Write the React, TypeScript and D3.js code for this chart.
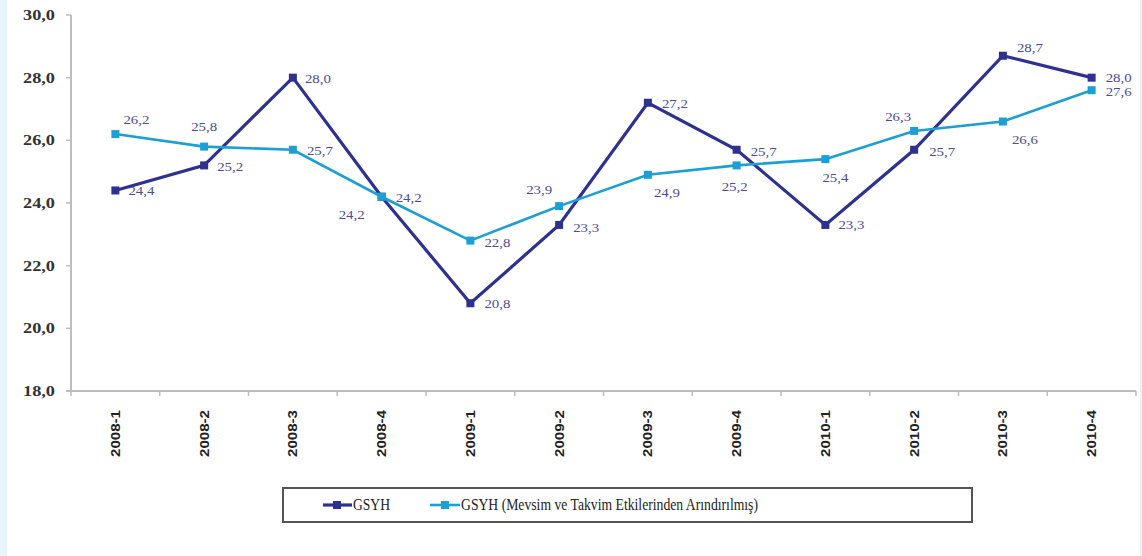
import React from 'react';
import * as d3 from 'd3';

const categories = ['2008-1', '2008-2', '2008-3', '2008-4', '2009-1', '2009-2', '2009-3', '2009-4', '2010-1', '2010-2', '2010-3', '2010-4'];
const gsyh = [24.4, 25.2, 28.0, 24.2, 20.8, 23.3, 27.2, 25.7, 23.3, 25.7, 28.7, 28.0];
const gsyhAdj = [26.2, 25.8, 25.7, 24.2, 22.8, 23.9, 24.9, 25.2, 25.4, 26.3, 26.6, 27.6];
const yTicks = [18, 20, 22, 24, 26, 28, 30];

// label offsets [dx, dy] from each point (start of text, baseline)
const gsyhLabelOffsets = [[13, 5], [13, 6], [12, 5], [-43, 22], [14, 5], [14, 7], [14, 5], [14, 6], [13, 4], [15, 6], [14, -4], [14, 4]];
const adjLabelOffsets = [[8, -10], [-13, -16], [14, 5], [14, 5], [14, 6], [-33, -12], [6, 22], [-15, 26], [-3, 23], [-29, -10], [9, 22], [14, 6]];

const DARK = '#2e3190';
const LIGHT = '#1c9fd3';
const LABEL = '#4d4b9b';
const AXIS = '#bdbdbd';

const fmt = (v: number) => v.toFixed(1).replace('.', ',');

export default function App() {
  const width = 1142;
  const height = 556;
  const left = 71, right = 1136, top = 15, bottom = 391;

  const x = d3.scalePoint<string>().domain(categories).range([left, right]).padding(0.5);
  const y = d3.scaleLinear().domain([18, 30]).range([bottom, top]);
  const step = x.step();

  const line = d3.line<number>()
    .x((_, i) => x(categories[i]) as number)
    .y(d => y(d));

  const series = [
    { name: 'GSYH', values: gsyh, color: DARK, width: 3.2, offsets: gsyhLabelOffsets },
    { name: 'GSYH (Mevsim ve Takvim Etkilerinden Arındırılmış)', values: gsyhAdj, color: LIGHT, width: 2.6, offsets: adjLabelOffsets },
  ];

  return (
    <svg width={width} height={height} style={{ position: 'absolute', left: 0, top: 0, background: '#fff' }}>
      <rect x={0} y={0} width={7} height={height} fill="#e9f5fd" />
      <rect x={1140} y={0} width={2} height={height} fill="#e9f5fd" />

      {/* y axis */}
      <line x1={left} x2={left} y1={top} y2={bottom} stroke={AXIS} strokeWidth={2} />
      {yTicks.map(t => (
        <g key={t}>
          <line x1={left - 5} x2={left} y1={y(t)} y2={y(t)} stroke={AXIS} strokeWidth={1.5} />
          <text x={55} y={y(t) + 5} textAnchor="end" fontFamily="'Liberation Serif', serif" fontWeight="bold"
            fontSize={15} fill="#333" textLength={32} lengthAdjust="spacingAndGlyphs">{fmt(t)}</text>
        </g>
      ))}

      {/* x axis */}
      <line x1={left - 5} x2={right} y1={bottom} y2={bottom} stroke={AXIS} strokeWidth={2} />
      {d3.range(categories.length + 1).map(i => (
        <line key={i} x1={left + i * step} x2={left + i * step} y1={bottom} y2={bottom + 5} stroke={AXIS} strokeWidth={1.5} />
      ))}
      {categories.map(c => (
        <text key={c} transform={`translate(${x(c)},410) rotate(-90)`} textAnchor="end" dy="0.35em"
          fontFamily="'Liberation Sans', Arial, sans-serif" fontWeight="bold" fontSize={13} fill="#222"
          textLength={47} lengthAdjust="spacingAndGlyphs">{c}</text>
      ))}

      {/* lines */}
      {series.map(s => (
        <g key={s.name}>
          <path d={line(s.values) || ''} fill="none" stroke={s.color} strokeWidth={s.width} />
          {s.values.map((v, i) => (
            <rect key={i} x={(x(categories[i]) as number) - 4} y={y(v) - 4} width={8} height={8} fill={s.color} />
          ))}
        </g>
      ))}
      {series.map(s => s.values.map((v, i) => (
        <text key={s.name + i} x={(x(categories[i]) as number) + s.offsets[i][0]} y={y(v) + s.offsets[i][1]}
          fontFamily="'Liberation Serif', serif" fontSize={12} fill={LABEL}
          textLength={26} lengthAdjust="spacingAndGlyphs">{fmt(v)}</text>
      )))}

      {/* legend */}
      <rect x={283} y={488} width={689} height={34} fill="none" stroke="#555" strokeWidth={2} />
      <line x1={323} x2={352} y1={505} y2={505} stroke={DARK} strokeWidth={3.2} />
      <rect x={333} y={501} width={8} height={8} fill={DARK} />
      <text x={353} y={510} fontFamily="'Liberation Serif', serif" fontSize={16} fill="#222"
        textLength={37} lengthAdjust="spacingAndGlyphs">GSYH</text>
      <line x1={430} x2={460} y1={505} y2={505} stroke={LIGHT} strokeWidth={2.6} />
      <rect x={441} y={501} width={8} height={8} fill={LIGHT} />
      <text x={461} y={510} fontFamily="'Liberation Serif', serif" fontSize={16} fill="#222"
        textLength={297} lengthAdjust="spacingAndGlyphs">GSYH (Mevsim ve Takvim Etkilerinden Arındırılmış)</text>
    </svg>
  );
}
